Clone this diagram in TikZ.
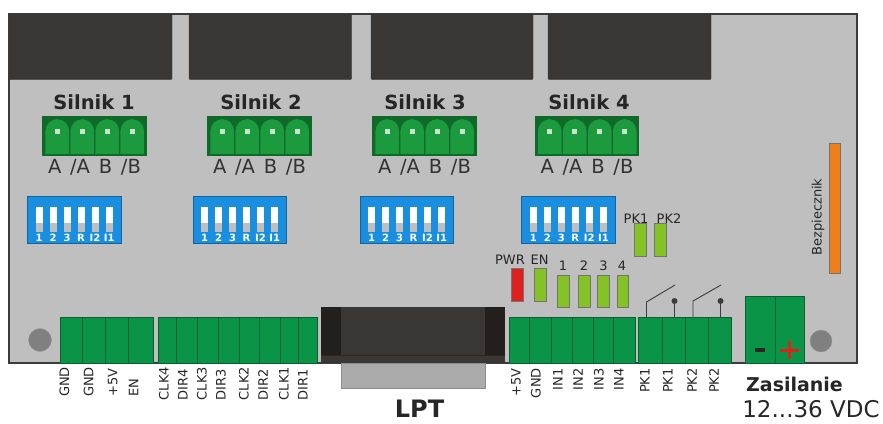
\documentclass[tikz,border=0pt]{standalone}
\usepackage{fontspec}
\setmainfont{DejaVu Sans}
\definecolor{boardgray}{HTML}{BFBFBF}
\definecolor{boardline}{HTML}{3C3C3C}
\definecolor{sinkdark}{HTML}{3A3633}
\definecolor{lptdark}{HTML}{231F1C}
\definecolor{tabgray}{HTML}{ABABAB}
\definecolor{termgreen}{HTML}{0A9447}
\definecolor{termline}{HTML}{0B6030}
\definecolor{plugdark}{HTML}{0F6A2A}
\definecolor{pluggreen}{HTML}{1C9A3E}
\definecolor{dipblue}{HTML}{1A8FE0}
\definecolor{ledgreen}{HTML}{85C226}
\definecolor{ledred}{HTML}{E0201C}
\definecolor{fuseorange}{HTML}{EE7F1A}
\tikzset{
  sink/.style={fill=sinkdark,draw=sinkdark,rounded corners=1pt},
  terminal/.style={fill=termgreen,draw=termline,line width=0.6pt},
  split/.style={draw=termline,line width=0.7pt},
  led/.style={draw=black!55,line width=0.6pt},
  contact/.style={draw=boardline,line width=0.9pt},
  pin/.style={rotate=90,inner sep=0pt,font=\fontsize{13}{13}\selectfont,text=black!85},
  small/.style={inner sep=0pt,font=\fontsize{13}{13}\selectfont,text=black!85},
  title/.style={inner sep=0pt,font=\fontsize{19.5}{20}\selectfont\bfseries,text=black!85},
  letters/.style={inner sep=0pt,font=\fontsize{19.5}{20}\selectfont,text=black!80},
  diptext/.style={inner sep=0pt,text=white,font=\fontsize{10}{10}\selectfont\bfseries}
}
\begin{document}
\begin{tikzpicture}[x=1pt,y=-1pt]
\useasboundingbox (0,0) rectangle (883,423);

\draw[fill=boardgray,draw=boardline,line width=1.3pt] (9,14) rectangle (857,363);

% radiatory
\draw[sink] (9,14) rectangle (172,79.5);
\draw[sink] (189,14) rectangle (351.5,79.5);
\draw[sink] (371,14) rectangle (533,79.5);
\draw[sink] (548,14) rectangle (711,79.5);

% silniki
\foreach \x/\n/\dx in {43/1/51,208/2/53,373/3/52,535.5/4/53.5} {
  \draw[fill=plugdark,draw=plugdark,line width=1.4pt] (\x,117) rectangle +(103,38.5);
  \foreach \c in {2,27,52,77} {
    \draw[fill=pluggreen,draw=plugdark,line width=0.7pt] (\x+\c,154.5) -- (\x+\c,131) arc[start angle=180,end angle=360,radius=12.25] -- (\x+\c+24.5,154.5) -- cycle;
    \fill[white!75!pluggreen] (\x+\c+9.7,128.5) rectangle +(5,5);
  }
  \node[title] (silnik\n) at (\x+\dx,102) {Silnik \n};
  \node[letters] (faza\n) at (\x+51.5,167) {\spaceskip=.45em\relax A /A B /B};
}

% przelaczniki
\foreach \x in {27.5,193,360,521.7} {
  \draw[fill=dipblue,draw=dipblue!70!black,line width=0.5pt] (\x,196) rectangle +(93.5,47);
  \foreach \c/\t in {8.2/1,22.2/2,36.2/3,50/R,64/I2,78.3/I1} {
    \fill[white] (\x+\c,206.7) rectangle +(7,16);
    \fill[boardgray] (\x+\c,222.7) rectangle +(7,9);
    \node[diptext] (dip\x\t) at (\x+\c+3.5,238) {\t};
  }
}

% listwy
\draw[terminal] (60,317) rectangle (153,363);
\path[split] (82,317) -- (82,363) (105.5,317) -- (105.5,363) (128,317) -- (128,363);

\draw[terminal] (158,317) rectangle (317,363);
\path[split] (176,317) -- (176,363) (197.5,317) -- (197.5,363) (218.5,317) -- (218.5,363) (239.5,317) -- (239.5,363);
\path[split] (259.5,317) -- (259.5,363) (280.5,317) -- (280.5,363) (298.5,317) -- (298.5,363);

\draw[terminal] (509,317) rectangle (635,363);
\path[split] (529.5,317) -- (529.5,363) (551.5,317) -- (551.5,363) (572.5,317) -- (572.5,363) (593.5,317) -- (593.5,363) (613.5,317) -- (613.5,363);

\draw[terminal] (638,317) rectangle (731,363);
\path[split] (662,317) -- (662,363) (685.5,317) -- (685.5,363) (708,317) -- (708,363);

\draw[terminal] (745.7,296) rectangle (804,363);
\path[split] (775,296) -- (775,363);
\fill[black!85] (754.5,348) rectangle (765,352);
\fill[ledred] (779.5,348.5) rectangle (798.5,351.5);
\fill[ledred] (787.5,341) rectangle (790.5,359);

% LPT
\draw[fill=tabgray,draw=black!45] (341,363) rectangle (485,388);
\fill[sinkdark] (320.5,307) rectangle (504.5,363);
\fill[lptdark] (320.5,307) rectangle (340.5,354.5);
\fill[lptdark] (485,307) rectangle (504.5,354.5);
\fill[lptdark!70!sinkdark] (320.5,354.5) rectangle (504.5,356);

% otwory
\draw[fill=black!50,draw=black!40] (40,340) circle (11.5);
\draw[fill=black!50,draw=black!40] (821,341) circle (11);

% diody
\draw[led,fill=ledred] (511.5,268) rectangle (523,301);
\draw[led,fill=ledgreen] (534.7,268.5) rectangle (546,301);
\draw[led,fill=ledgreen] (557,275) rectangle (569,307);
\draw[led,fill=ledgreen] (578,275) rectangle (590,307);
\draw[led,fill=ledgreen] (597,275) rectangle (609,307);
\draw[led,fill=ledgreen] (617,275) rectangle (628,307);
\draw[led,fill=ledgreen] (634.5,223) rectangle (646,256);
\draw[led,fill=ledgreen] (654.5,223) rectangle (666,256);

\node[small] (pwr) at (510,260) {PWR};
\node[small] (en) at (539.5,260) {EN};
\node[small] (led1) at (563,266) {1};
\node[small] (led2) at (584,266) {2};
\node[small] (led3) at (603.5,266) {3};
\node[small] (led4) at (622,266) {4};
\node[small] (pk1) at (636,219) {PK1};
\node[small] (pk2) at (669,219) {PK2};

% bezpiecznik
\draw[led,fill=fuseorange] (829,143.5) rectangle (840,273);
\node[small,rotate=90] (fuse) at (818,217) {Bezpiecznik};

% przekazniki
\path[contact] (646.5,317) -- (646.5,302) -- (675,285);
\path[contact] (674.5,317) -- (674.5,301);
\fill[boardline] (674.5,301) circle (3);
\path[contact] (693,317) -- (693,301) -- (721,285);
\path[contact] (720.5,317) -- (720.5,301);
\fill[boardline] (720.5,301) circle (3);

% opisy listew
\node[pin,anchor=west] (gnda) at (64.5,397) {GND};
\node[pin,anchor=west] (gndb) at (88.7,397) {GND};
\node[pin,anchor=west] (vcca) at (112.7,397) {+5V};
\node[pin,anchor=west] (ena) at (133.7,397) {EN};
\node[pin,anchor=west] (clkd) at (164,400.5) {CLK4};
\node[pin,anchor=west] (dird) at (183,400.5) {DIR4};
\node[pin,anchor=west] (clkc) at (202,400.5) {CLK3};
\node[pin,anchor=west] (dirc) at (221,400.5) {DIR3};
\node[pin,anchor=west] (clkb) at (244,400.5) {CLK2};
\node[pin,anchor=west] (dirb) at (263,400.5) {DIR2};
\node[pin,anchor=west] (clka) at (284,400.5) {CLK1};
\node[pin,anchor=west] (dira) at (303,400.5) {DIR1};

\node[pin,anchor=east] (vccb) at (516,368.5) {+5V};
\node[pin,anchor=east] (gndc) at (536,368) {GND};
\node[pin,anchor=east] (ina) at (558,368) {IN1};
\node[pin,anchor=east] (inb) at (578,368) {IN2};
\node[pin,anchor=east] (inc) at (599,368) {IN3};
\node[pin,anchor=east] (ind) at (619,368) {IN4};
\node[pin,anchor=east] (pka) at (645,368) {PK1};
\node[pin,anchor=east] (pkb) at (668,368) {PK1};
\node[pin,anchor=east] (pkc) at (692,368) {PK2};
\node[pin,anchor=east] (pkd) at (714,368) {PK2};

\node[inner sep=0pt,font=\fontsize{24}{24}\selectfont\bfseries,text=black!85] (lpt) at (419.5,408.5) {LPT};
\node[inner sep=0pt,font=\fontsize{19}{19}\selectfont\bfseries,text=black!85] (zasilanie) at (794.5,384) {Zasilanie};
\node[inner sep=0pt,font=\fontsize{23}{23}\selectfont,text=black!85] (napiecie) at (811,409) {12...36 VDC};
\end{tikzpicture}
\end{document}
